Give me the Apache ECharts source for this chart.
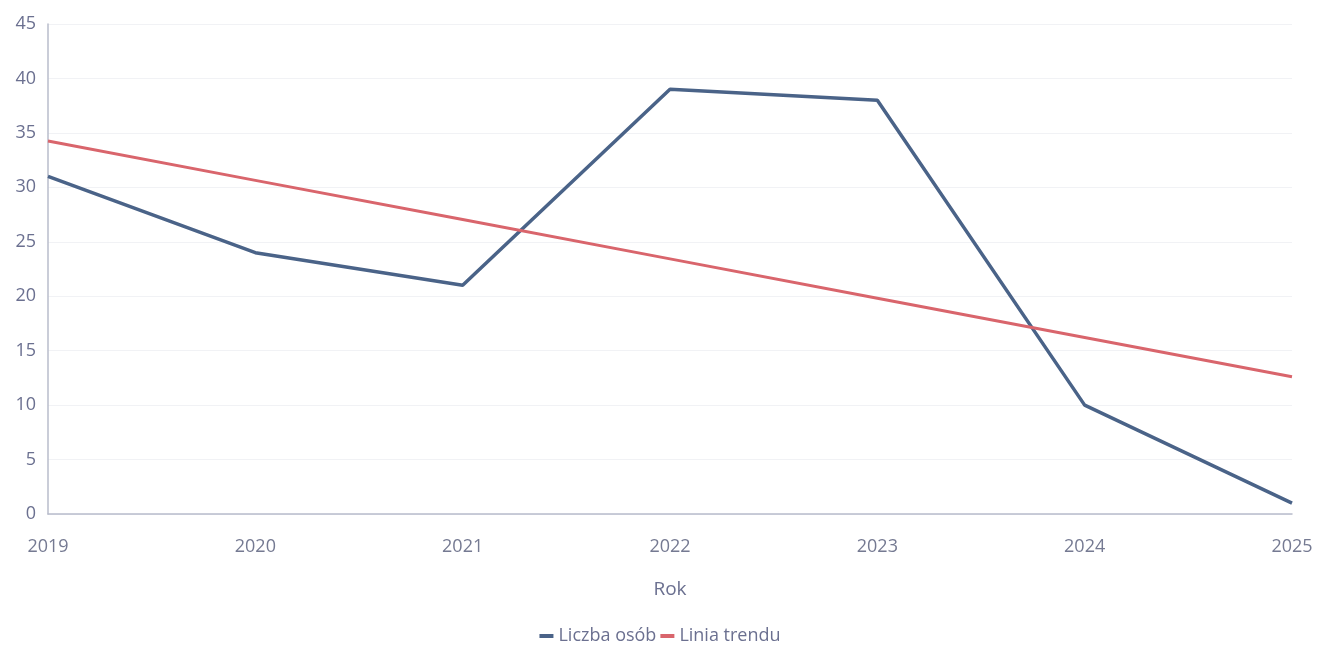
<!DOCTYPE html>
<html><head><meta charset="utf-8">
<script src="https://cdn.jsdelivr.net/npm/echarts@6/dist/echarts.min.js"></script>
<style>html,body{margin:0;padding:0;background:#fff}#c{width:1320px;height:650px}</style>
</head><body><div id="c"></div>
<script>
const years = ['2019','2020','2021','2022','2023','2024','2025'];
const liczbaOsob = [31, 24, 21, 39, 38, 10, 1];
const liniaTrendu = [34.25, 30.64, 27.04, 23.43, 19.82, 16.21, 12.61];
const yTicks = [0, 5, 10, 15, 20, 25, 30, 35, 40, 45];

const chart = echarts.init(document.getElementById('c'), null, {renderer: 'canvas'});
const font = '"Open Sans", "Noto Sans", sans-serif';
chart.setOption({
  animation: false,
  grid: {left: 48, right: 28, top: 24, bottom: 136},
  legend: {
    bottom: 0, left: 'center', itemWidth: 14, itemHeight: 4, itemGap: 4,
    icon: 'rect',
    textStyle: {color: '#6b7090', fontSize: 18, fontFamily: font},
    data: ['Liczba osób', 'Linia trendu']
  },
  xAxis: {
    type: 'category', data: years, boundaryGap: false,
    name: 'Rok', nameLocation: 'middle', nameGap: 66,
    nameTextStyle: {color: '#6b7090', fontSize: 19, fontFamily: font},
    axisLine: {lineStyle: {color: '#b8bccb', width: 1.5}},
    axisTick: {show: false},
    axisLabel: {color: '#757a92', fontSize: 18, fontFamily: font, margin: 24},
    splitLine: {show: false}
  },
  yAxis: {
    type: 'value', min: 0, max: 45, interval: 5,
    axisLine: {show: true, lineStyle: {color: '#b8bccb', width: 1.5}},
    axisTick: {show: false},
    axisLabel: {color: '#6b7090', fontSize: 18, fontFamily: font, margin: 12},
    splitLine: {lineStyle: {color: '#f1f2f5', width: 1}}
  },
  series: [
    {name: 'Liczba osób', type: 'line', data: liczbaOsob, symbol: 'none',
     lineStyle: {color: '#4a6388', width: 3.5}, itemStyle: {color: '#4a6388'}},
    {name: 'Linia trendu', type: 'line', data: liniaTrendu, symbol: 'none',
     lineStyle: {color: '#d9656c', width: 3}, itemStyle: {color: '#d9656c'}}
  ]
});
</script></body></html>
